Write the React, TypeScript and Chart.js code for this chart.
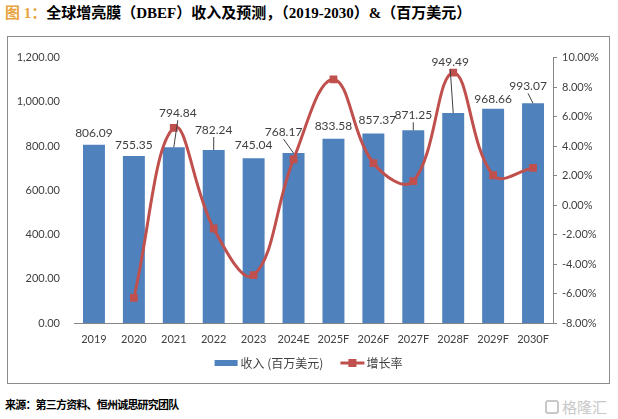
import React, { useEffect, useRef } from "react";
import { Chart, registerables } from "chart.js";

Chart.register(...registerables);

const categories = ["2019", "2020", "2021", "2022", "2023", "2024E", "2025F", "2026F", "2027F", "2028F", "2029F", "2030F"];
const revenue = [806.09, 755.35, 794.84, 782.24, 745.04, 768.17, 833.58, 857.37, 871.25, 949.49, 968.66, 993.07];
const growth: (number | null)[] = [null, -6.29, 5.23, -1.59, -4.76, 3.1, 8.52, 2.85, 1.62, 8.98, 2.02, 2.52];
const revenueTicks = [0, 200, 400, 600, 800, 1000, 1200];
const growthTicks = [-8, -6, -4, -2, 0, 2, 4, 6, 8, 10];
const revenueLabel = "收入 (百万美元)";
const growthLabel = "增长率";

// label placement (style): [dx, dy from bar top, leader line]
const labelShift: [number, number, boolean][] = [
  [0, -12, false], [0, -11, false], [4, -34, true], [0, -20, true], [0, -13, false], [-10, -21, true],
  [0, -13, false], [4, -13, false], [0, -15, true], [-3, -51, true], [0, -10, false], [-5, -17, true],
];

const BAR = "#4F81BD";
const RED = "#C0504D";
const TXT = "#404040";
const AXIS = "#868686";

const dataLabelPlugin = {
  id: "dataLabels",
  afterDatasetsDraw(chart: any) {
    const meta = chart.getDatasetMeta(1);
    const ctx = chart.ctx;
    ctx.save();
    ctx.font = "12px Lato";
    ctx.fillStyle = TXT;
    ctx.strokeStyle = TXT;
    ctx.lineWidth = 1;
    ctx.textAlign = "center";
    ctx.textBaseline = "middle";
    meta.data.forEach((bar: any, i: number) => {
      const [dx, dy, leader] = labelShift[i];
      const lx = bar.x + dx;
      const ly = bar.y + dy;
      if (leader) {
        ctx.beginPath();
        ctx.moveTo(lx, ly + 7);
        ctx.lineTo(bar.x, bar.y);
        ctx.stroke();
      }
      ctx.fillText(revenue[i].toFixed(2), lx, ly);
    });
    ctx.restore();
  },
};

const legendPlugin = {
  id: "customLegend",
  afterDraw(chart: any) {
    const ctx = chart.ctx;
    ctx.save();
    ctx.font = "12px 'Noto Sans CJK SC'";
    ctx.textBaseline = "middle";
    const y = chart.chartArea.bottom + 40;
    const w1 = ctx.measureText(revenueLabel).width;
    const w2 = ctx.measureText(growthLabel).width;
    const total = 23 + 3 + w1 + 17 + 24 + 2 + w2;
    let x = chart.width / 2 - total / 2;
    ctx.fillStyle = BAR;
    ctx.fillRect(x, y - 3, 23, 6);
    x += 26;
    ctx.fillStyle = TXT;
    ctx.fillText(revenueLabel, x, y);
    x += w1 + 17;
    ctx.strokeStyle = RED;
    ctx.lineWidth = 3;
    ctx.beginPath();
    ctx.moveTo(x, y);
    ctx.lineTo(x + 24, y);
    ctx.stroke();
    ctx.fillStyle = RED;
    ctx.fillRect(x + 12 - 4, y - 4, 8, 8);
    x += 26;
    ctx.fillStyle = TXT;
    ctx.fillText(growthLabel, x, y);
    ctx.restore();
  },
};

export default function App() {
  const ref = useRef<HTMLCanvasElement>(null);

  useEffect(() => {
    if (!ref.current) return;
    Chart.defaults.font.family = "Lato";
    const chart = new Chart(ref.current, {
      type: "bar",
      data: {
        labels: categories,
        datasets: [
          {
            type: "line",
            label: growthLabel,
            data: growth,
            yAxisID: "y1",
            borderColor: RED,
            backgroundColor: RED,
            borderWidth: 3,
            tension: 0.4,
            pointStyle: "rect",
            pointRadius: 5.5,
            pointBorderWidth: 0,
            pointBackgroundColor: RED,
            order: 0,
          } as any,
          {
            type: "bar",
            label: revenueLabel,
            data: revenue,
            yAxisID: "y",
            backgroundColor: BAR,
            barPercentage: 0.55,
            categoryPercentage: 1,
            order: 1,
          },
        ],
      },
      options: {
        animation: false,
        responsive: false,
        maintainAspectRatio: false,
        layout: { padding: { top: 14, left: 0, right: 0, bottom: 0 } },
        plugins: { legend: { display: false }, tooltip: { enabled: false }, title: { display: false } },
        scales: {
          x: {
            grid: { display: false, drawTicks: false },
            border: { display: true, color: AXIS, width: 1 },
            ticks: { color: TXT, font: { size: 11 }, padding: 10, maxRotation: 0, autoSkip: false },
            afterFit: (s: any) => { s.height = 60; },
          },
          y: {
            position: "left",
            min: 0,
            max: 1200,
            grid: { display: false, drawTicks: false },
            border: { display: false },
            afterBuildTicks: (s: any) => { s.ticks = revenueTicks.map((v) => ({ value: v })); },
            ticks: {
              color: TXT,
              font: { size: 11 },
              padding: 14,
              callback: (v: any) => Number(v).toLocaleString("en-US", { minimumFractionDigits: 2, maximumFractionDigits: 2 }),
            },
            afterFit: (s: any) => { s.width = 66; },
          },
          y1: {
            position: "right",
            min: -8,
            max: 10,
            grid: { display: true, drawOnChartArea: false, drawTicks: true, tickLength: 4, color: AXIS },
            border: { display: true, color: AXIS, width: 1 },
            afterBuildTicks: (s: any) => { s.ticks = growthTicks.map((v) => ({ value: v })); },
            ticks: {
              color: TXT,
              font: { size: 11 },
              padding: 5,
              callback: (v: any) => `${Number(v).toFixed(2)}%`,
            },
            afterFit: (s: any) => { s.width = 56; },
          },
        },
      },
      plugins: [dataLabelPlugin, legendPlugin],
    } as any);
    return () => chart.destroy();
  }, []);

  return (
    <div style={{ position: "absolute", left: 0, top: 0, width: 618, height: 419, background: "#fff", overflow: "hidden" }}>
      <div
        style={{
          position: "absolute",
          left: 5,
          top: 3,
          fontSize: 15,
          fontWeight: "bold",
          fontFamily: "'Liberation Serif', 'Noto Sans CJK SC', serif",
          color: "#000",
          whiteSpace: "nowrap",
          lineHeight: "20px",
        }}
      >
        <span style={{ color: "#E8A33D" }}>图 1：</span>
        全球增亮膜（DBEF）收入及预测，（2019-2030）&amp;（百万美元）
      </div>
      <div
        style={{
          position: "absolute",
          left: 7,
          top: 36,
          width: 601,
          height: 346,
          border: "1px solid #8c8c8c",
        }}
      >
        <canvas ref={ref} width={601} height={346} style={{ display: "block", width: 601, height: 346 }} />
      </div>
      <div
        style={{
          position: "absolute",
          left: 5,
          top: 396,
          fontSize: 11,
          fontWeight: "bold",
          fontFamily: "'Noto Sans CJK SC', sans-serif",
          color: "#000",
          whiteSpace: "nowrap",
          lineHeight: "16px",
          letterSpacing: "-0.8px",
        }}
      >
        来源：第三方资料、恒州诚思研究团队
      </div>
      <div
        style={{
          position: "absolute",
          left: 545,
          top: 397,
          fontSize: 15,
          fontFamily: "'Noto Sans CJK SC', sans-serif",
          color: "#c8c8c8",
          whiteSpace: "nowrap",
          lineHeight: "20px",
          display: "flex",
          alignItems: "center",
          gap: 3,
        }}
      >
        <span style={{ display: "inline-block", width: 14, height: 14, border: "2px solid #c8c8c8", borderRadius: 3, boxSizing: "border-box" }} />
        格隆汇
      </div>
    </div>
  );
}
